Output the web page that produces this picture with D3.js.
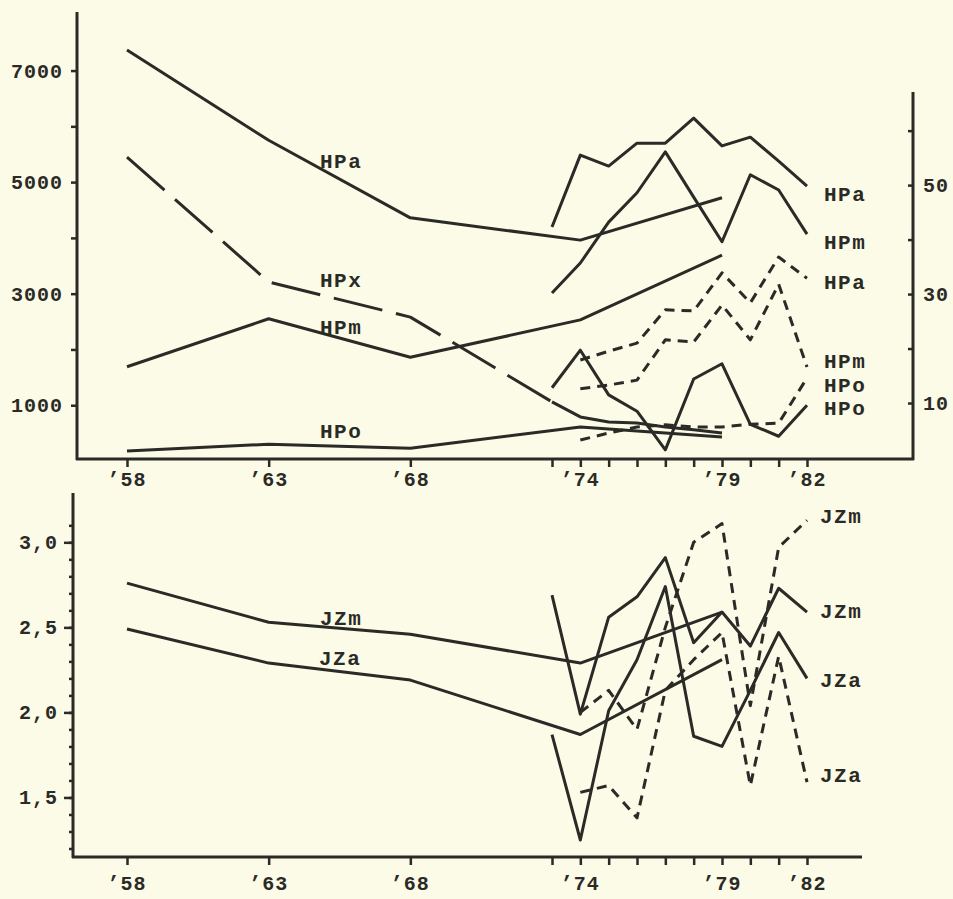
<!DOCTYPE html>
<html>
<head>
<meta charset="utf-8">
<script src="https://cdn.jsdelivr.net/npm/d3@7"></script>
<style>
  body { margin: 0; background: #fbfbe7; }
  svg { display: block; }
  text { font-family: "Liberation Mono", "DejaVu Sans Mono", monospace; fill: #2a2a26; }
</style>
</head>
<body>
<svg id="chart" width="953" height="899"></svg>
<script>
// years ('58 .. '82)
var yrsLong = [58, 63, 68, 74, 79];
var yrsHPx = [58, 63, 68, 73];
var yrsHPxTail = [73, 74, 75, 76, 77, 78, 79];
var yrsAnnual = [73, 74, 75, 76, 77, 78, 79, 80, 81, 82];
var yrsAnnual74 = [74, 75, 76, 77, 78, 79, 80, 81, 82];

// upper panel, left axis
var hpa = [7370, 5750, 4360, 3960, 4720];
var hpx = [5450, 3210, 2580, 1060];
var hpxTail = [1060, 790, 700, 680, 610, 560, 500];
var hpm = [1690, 2550, 1860, 2530, 3690];
var hpo = [180, 300, 230, 610, 430];

// upper panel, right axis (yearly), solid
var hpaYr = [42.3, 55.5, 53.5, 57.7, 57.7, 62.3, 57.2, 58.8, 54.4, 49.8];
var hpmYr = [30.2, 35.7, 43.2, 48.6, 56.1, 47.8, 39.6, 51.9, 49.1, 41.0];
var hpoYr = [12.8, 19.7, 11.5, 8.5, 1.4, 14.4, 17.2, 6.1, 3.9, 9.6];
// upper panel, right axis (yearly), dashed
var hpaYrD = [17.9, 19.5, 21.0, 27.1, 26.9, 33.9, 28.4, 36.8, 32.9];
var hpmYrD = [12.6, 13.3, 14.2, 21.6, 21.2, 28.0, 21.6, 31.8, 16.6];
var hpoYrD = [3.2, 4.5, 5.6, 6.0, 5.6, 5.6, 6.1, 6.3, 14.6];

// lower panel
var jzm = [2.76, 2.53, 2.46, 2.29, 2.59];
var jza = [2.49, 2.29, 2.19, 1.87, 2.31];
var jzmYr = [2.69, 1.99, 2.56, 2.68, 2.91, 2.41, 2.59, 2.39, 2.73, 2.59];
var jzaYr = [1.87, 1.25, 2.01, 2.31, 2.74, 1.86, 1.80, 2.13, 2.47, 2.20];
var jzmYrD = [2.00, 2.13, 1.90, 2.50, 3.00, 3.11, 2.04, 2.97, 3.13];
var jzaYrD = [1.53, 1.57, 1.38, 2.13, 2.31, 2.47, 1.57, 2.33, 1.59];

// ticks
var xTicks = [58, 63, 68, 73, 74, 75, 76, 77, 78, 79, 80, 81, 82];
var xLabels = [58, 63, 68, 74, 79, 82];
var leftTicks = [1000, 2000, 3000, 4000, 5000, 6000, 7000];
var leftLabels = [1000, 3000, 5000, 7000];
var rightTicks = [10, 20, 30, 40, 50, 60];
var rightLabels = [10, 30, 50];
var jzTicks = d3.range(12, 32).map(d => d / 10);
var jzLabels = [1.5, 2.0, 2.5, 3.0];

var ink = "#2a2a26";
var svg = d3.select("#chart");

svg.append("rect").attr("width", 953).attr("height", 899).attr("fill", "#fbfbe7");

//	scales
var x = d3.scaleLinear().domain([58, 82]).range([127, 807]);
var yL = d3.scaleLinear().domain([0, 8050]).range([461, 12]);
var yR = d3.scaleLinear().domain([0, 67]).range([457.5, 92.5]);
var yJ = d3.scaleLinear().domain([1.15, 3.29]).range([857, 493]);

function draw(g, yrs, vals, y, dash) {
  var line = d3.line().x((d, i) => x(yrs[i])).y(d => y(d));
  g.append("path")
    .datum(vals)
    .attr("d", line)
    .attr("fill", "none")
    .attr("stroke", ink)
    .attr("stroke-width", 3)
    .attr("stroke-linejoin", "round")
    .attr("stroke-dasharray", dash || null);
}

function label(g, txt, px, py) {
  g.append("text")
    .attr("x", px).attr("y", py)
    .attr("font-size", 21)
    .attr("font-weight", "bold")
    .attr("letter-spacing", 1.5)
    .text(txt);
}

// tick label text
function tickText(sel) {
  sel.attr("font-size", 20).attr("font-weight", "bold").attr("letter-spacing", 1);
}

var yrFmt = d => "\u2019" + d;

// ---------------- upper panel ----------------
var upper = svg.append("g");

// frame
upper.append("line").attr("x1", 77).attr("x2", 77).attr("y1", 12).attr("y2", 460)
  .attr("stroke", ink).attr("stroke-width", 3);
upper.append("line").attr("x1", 76).attr("x2", 914).attr("y1", 459).attr("y2", 459)
  .attr("stroke", ink).attr("stroke-width", 3);
upper.append("line").attr("x1", 913).attr("x2", 913).attr("y1", 92).attr("y2", 460)
  .attr("stroke", ink).attr("stroke-width", 3);

var axL = upper.append("g").attr("transform", "translate(77,0)")
  .call(d3.axisLeft(yL).tickValues(leftTicks).tickSize(6).tickFormat(""));
var axR = upper.append("g").attr("transform", "translate(913,0)")
  .call(d3.axisLeft(yR).tickValues(rightTicks).tickSize(5).tickFormat(""));
var axB = upper.append("g").attr("transform", "translate(0,459)")
  .call(d3.axisBottom(x).tickValues(xTicks).tickSize(8).tickFormat(""));
[axL, axR, axB].forEach(a => {
  a.select(".domain").remove();
  a.selectAll("line").attr("stroke", ink).attr("stroke-width", 2.5);
});

upper.selectAll(".ltl").data(leftLabels).enter().append("text")
  .attr("x", 63).attr("y", d => yL(d) + 7)
  .attr("text-anchor", "end")
  .call(tickText)
  .text(d => d);
upper.selectAll(".rtl").data(rightLabels).enter().append("text")
  .attr("x", 923).attr("y", d => yR(d) + 7)
  .call(tickText)
  .text(d => d);
upper.selectAll(".xtl").data(xLabels).enter().append("text")
  .attr("x", d => x(d)).attr("y", 486)
  .attr("text-anchor", "middle")
  .call(tickText)
  .text(yrFmt);

draw(upper, yrsLong, hpa, yL);
draw(upper, yrsHPx, hpx, yL, "50,14");
draw(upper, yrsHPxTail, hpxTail, yL);
draw(upper, yrsLong, hpm, yL);
draw(upper, yrsLong, hpo, yL);

draw(upper, yrsAnnual, hpaYr, yR);
draw(upper, yrsAnnual, hpmYr, yR);
draw(upper, yrsAnnual, hpoYr, yR);
draw(upper, yrsAnnual74, hpaYrD, yR, "10,7");
draw(upper, yrsAnnual74, hpmYrD, yR, "10,7");
draw(upper, yrsAnnual74, hpoYrD, yR, "10,7");

label(upper, "HPa", 320, 168);
label(upper, "HPx", 320, 287);
label(upper, "HPm", 320, 334);
label(upper, "HPo", 320, 438);
label(upper, "HPa", 824, 201);
label(upper, "HPm", 824, 249);
label(upper, "HPa", 824, 289);
label(upper, "HPm", 824, 368);
label(upper, "HPo", 824, 392);
label(upper, "HPo", 824, 415);

// ---------------- lower panel ----------------
var lower = svg.append("g");

lower.append("line").attr("x1", 73).attr("x2", 73).attr("y1", 493).attr("y2", 858)
  .attr("stroke", ink).attr("stroke-width", 3);
lower.append("line").attr("x1", 72).attr("x2", 862).attr("y1", 857).attr("y2", 857)
  .attr("stroke", ink).attr("stroke-width", 3);

var axJ = lower.append("g").attr("transform", "translate(73,0)")
  .call(d3.axisLeft(yJ).tickValues(jzTicks).tickSize(4).tickFormat(""));
var axJl = lower.append("g").attr("transform", "translate(73,0)")
  .call(d3.axisLeft(yJ).tickValues(jzLabels).tickSize(9).tickFormat(""));
var axJb = lower.append("g").attr("transform", "translate(0,857)")
  .call(d3.axisBottom(x).tickValues(xTicks).tickSize(8).tickFormat(""));
[axJ, axJl, axJb].forEach(a => {
  a.select(".domain").remove();
  a.selectAll("line").attr("stroke", ink).attr("stroke-width", 2.5);
});

lower.selectAll(".jtl").data(jzLabels).enter().append("text")
  .attr("x", 58).attr("y", d => yJ(d) + 7)
  .attr("text-anchor", "end")
  .call(tickText)
  .text(d => d3.format(".1f")(d).replace(".", ","));
lower.selectAll(".xtl").data(xLabels).enter().append("text")
  .attr("x", d => x(d)).attr("y", 890)
  .attr("text-anchor", "middle")
  .call(tickText)
  .text(yrFmt);

draw(lower, yrsLong, jzm, yJ);
draw(lower, yrsLong, jza, yJ);
draw(lower, yrsAnnual, jzmYr, yJ);
draw(lower, yrsAnnual, jzaYr, yJ);
draw(lower, yrsAnnual74, jzmYrD, yJ, "10,7");
draw(lower, yrsAnnual74, jzaYrD, yJ, "10,7");

label(lower, "JZm", 320, 625);
label(lower, "JZa", 319, 665);
label(lower, "JZm", 820, 523);
label(lower, "JZm", 820, 618);
label(lower, "JZa", 820, 687);
label(lower, "JZa", 820, 782);
</script>
</body>
</html>
